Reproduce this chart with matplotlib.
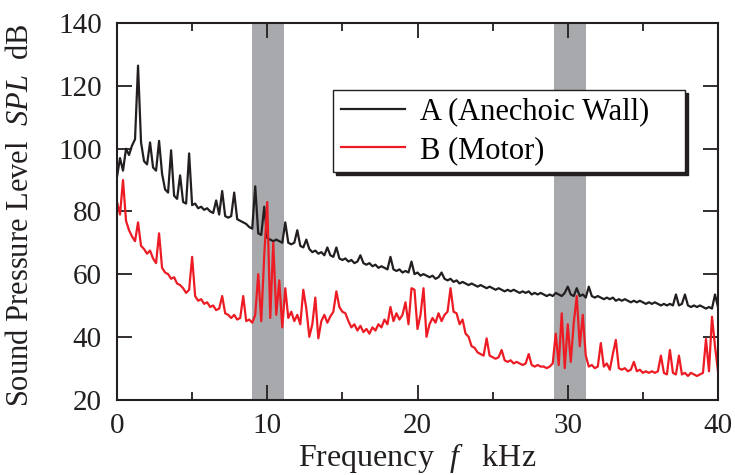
import numpy as np
import matplotlib.pyplot as plt
from matplotlib.ticker import MultipleLocator

plt.rcParams["font.family"] = "Liberation Serif"
plt.rcParams["mathtext.fontset"] = "custom"
plt.rcParams["mathtext.rm"] = "Liberation Serif"
plt.rcParams["mathtext.it"] = "Liberation Serif:italic"

# frequency grid of the spectra, kHz
freq = np.arange(0, 40.01, 0.2)

# A (Anechoic Wall), dB
spl_a = [
    91, 97, 93, 100, 98, 101, 103, 126.5, 102, 96,
    95, 102, 94, 93, 102.5, 92, 87, 86, 99.5, 85,
    84, 91.5, 83, 82.5, 98.5, 82, 82.5, 81, 81.5, 80.5,
    81, 80, 79.5, 83.5, 79, 86.5, 78.5, 78, 78.5, 86,
    77.5, 77, 76.5, 76, 75, 74.5, 88, 73, 72.5, 81.5,
    71.5, 71, 70.5, 71, 70.5, 70, 76.5, 70, 69.5, 70,
    74, 69, 68.5, 71, 68, 67, 67.5, 66.5, 67, 66,
    68.5, 66, 65.5, 68.5, 65, 64.5, 65, 64, 64.5, 63.5,
    64, 66, 63.5, 63, 63.5, 62.5, 63, 62, 62.5, 62,
    61.5, 65.5, 61.5, 61, 61.5, 60.5, 61, 60.5, 64, 60,
    60.5, 59.5, 60, 59.5, 59, 59.5, 58.5, 59, 60.5, 58.5,
    58, 58.5, 57.5, 58, 57, 57.5, 57, 56.5, 57, 56.5,
    56, 56.5, 56, 55.5, 56, 55.5, 55, 55.5, 55, 54.5,
    55, 54.5, 55, 54.5, 54, 54.5, 54, 54.5, 53.5, 54,
    53.5, 54, 53.5, 53, 53.5, 53, 54, 53.5, 53, 54,
    56, 53.5, 53, 55.5, 53, 53.5, 52.5, 56, 53, 52.5,
    53, 52.5, 52, 52.5, 52, 52.5, 51.5, 52, 51.5, 52,
    51.5, 51, 51.5, 51, 51.5, 51, 50.5, 51, 50.5, 51,
    50.5, 50, 50.5, 50, 50.5, 50, 53.5, 50, 50.5, 53.5,
    50, 49.5, 50, 49.5, 50, 49.5, 49, 49.5, 49, 53.5,
    49.5,
]

# B (Motor), dB
spl_b = [
    83, 79, 90, 77, 74, 72, 70.5, 76.5, 69, 68,
    66.5, 67.5, 65, 63.5, 73, 62, 60.5, 60, 58.5, 59,
    57, 56.5, 55.5, 54, 55, 65.5, 53, 51.5, 52, 50.5,
    51, 49.5, 50, 48.5, 49, 53, 47.5, 47, 46, 47,
    45.5, 46, 53, 45, 45.5, 44.5, 47, 60, 45, 66,
    83, 46, 70, 47, 58, 43, 55.5, 46, 48, 45,
    47, 44, 55, 49, 40, 44, 52.5, 39.5, 45, 47,
    44.5, 46.5, 48, 54.5, 49.5, 48, 47.5, 45, 43, 44,
    42, 43.5, 41.5, 42.5, 41, 43, 42, 44, 43, 45.5,
    44, 49.5, 45, 47.5, 45.5, 47, 51, 44, 55.5, 55,
    42.5, 47, 55.5, 40, 44, 46, 44.5, 47.5, 45, 47,
    48, 55.5, 48, 47.5, 44, 45.5, 41, 40, 37, 36.5,
    35, 34.5, 34, 39.5, 34, 33.5, 33, 33.5, 35.8, 32.5,
    32, 32.5, 31.5, 32, 31.5, 31, 31.5, 34.5, 31, 30.5,
    31, 30.5, 30.5, 30, 30.5, 31.5, 41, 31, 47.5, 30,
    44, 32, 44.5, 53, 37, 47, 34, 30.5, 31, 30,
    30.5, 38, 30.5, 31.5, 29.5, 34.5, 39, 30, 29.5, 30,
    29, 29.5, 32, 29, 29.5, 28.5, 29, 28.5, 29, 28.5,
    29, 34, 28.5, 28, 35.8, 28.5, 28, 34, 28, 28.5,
    27.5, 28.5, 28, 27.5, 28, 28.5, 39.3, 29, 46.4, 37,
    29,
]

# shaded frequency bands, kHz
bands = [(9.0, 11.1), (29.1, 31.2)]

ink = "#231f20"

fig = plt.figure(figsize=(7.35, 4.75), dpi=100)
ax = fig.add_axes([117 / 735, 1 - 399.5 / 475, 601 / 735, 376.2 / 475])

for lo, hi in bands:
    ax.axvspan(lo, hi, color="#a7a9ac", lw=0, zorder=0)

ax.plot(freq, spl_a, color=ink, lw=1.6, label="A (Anechoic Wall)")
ax.plot(freq, spl_b, color="#ed1c24", lw=1.6, label="B (Motor)")

ax.set_xlim(0, 40)
ax.set_ylim(20, 140)
ax.xaxis.set_major_locator(MultipleLocator(10))
ax.xaxis.set_minor_locator(MultipleLocator(5))
ax.yaxis.set_major_locator(MultipleLocator(20))
ax.tick_params(which="both", direction="in", top=True, right=True,
               labelsize=21, colors=ink)
ax.tick_params(which="major", length=11, width=1.3)
ax.tick_params(which="minor", length=5.5, width=1.3)
ax.tick_params(axis="y", pad=11)
ax.tick_params(axis="x", pad=10)
for s in ax.spines.values():
    s.set_linewidth(1.5)
    s.set_color(ink)

ax.set_xlabel("Frequency  $f$   kHz", fontsize=23, labelpad=1, color=ink)
ax.set_ylabel("Sound Pressure Level  $SPL$  dB", fontsize=22, color=ink)
ax.yaxis.set_label_coords(-0.136, 0.49)

leg = ax.legend(loc="upper left", bbox_to_anchor=(0.3594, 0.6, 0.5857, 0.2227),
                mode="expand", borderaxespad=0, fontsize=22, fancybox=False,
                framealpha=1, edgecolor=ink, shadow={"color": ink, "alpha": 1},
                handlelength=2.1, handletextpad=0.5, labelspacing=0.3,
                borderpad=0.25)
leg.get_frame().set_linewidth(1.0)

plt.savefig("out.png", dpi=100)
